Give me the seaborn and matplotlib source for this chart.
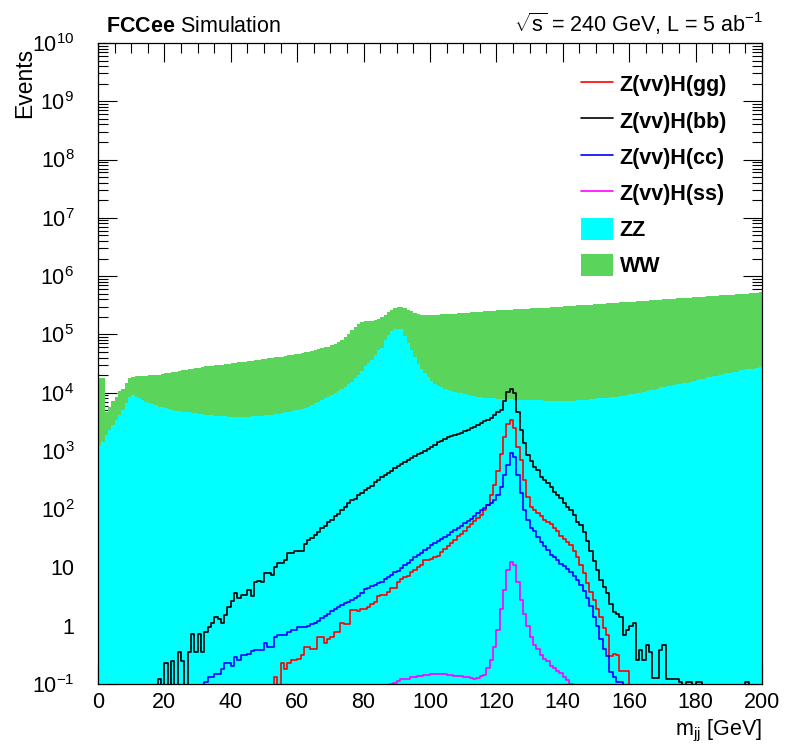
# FCCee Z(vv)H -> jj : dijet invariant mass, stacked backgrounds + signal lines
import numpy as np
import matplotlib
matplotlib.use("Agg")
import matplotlib.pyplot as plt
import seaborn as sns
from matplotlib.ticker import MultipleLocator, LogLocator, FuncFormatter, NullFormatter
from matplotlib.lines import Line2D
from matplotlib.patches import Patch


# 1 GeV bins from 0 to 200 GeV
bin_edges = list(range(0, 201))

# ZZ background, events per bin (bins 0..199)
zz_events = [
    1260, 1450, 1860, 2290, 2750, 3390, 4170, 5010, 6610, 8320,
    9120, 8510, 7940, 7410, 6920, 6610, 6310, 6030, 5750, 5560,
    5370, 5190, 5010, 4900, 4790, 4680, 4620, 4570, 4470, 4420,
    4370, 4270, 4170, 4120, 4070, 4030, 3980, 3980, 3940, 3890,
    3890, 3890, 3890, 3890, 3890, 3890, 3940, 3980, 3980, 4030,
    4070, 4120, 4170, 4270, 4370, 4470, 4570, 4730, 4900, 5010,
    5130, 5310, 5500, 5750, 6170, 6530, 6920, 7410, 7940, 8510,
    9120, 9770, 10470, 11480, 12590, 13960, 15490, 17580, 19950, 23710,
    28180, 31990, 36310, 44160, 53700, 57540, 79430, 97720, 112200, 123000,
    125900, 123000, 95500, 72440, 54950, 41690, 31620, 25700, 21380, 18200,
    15850, 14130, 13180, 12300, 11480, 10960, 10470, 10230, 10000, 9770,
    9300, 9100, 8900, 8700, 8550, 8400, 8250, 8100, 8000, 7950,
    7900, 7800, 7750, 7700, 7650, 7600, 7580, 7560, 7500, 7450,
    7400, 7380, 7350, 7330, 7300, 7280, 7260, 7240, 7240, 7240,
    7240, 7240, 7240, 7300, 7410, 7480, 7550, 7590, 7700, 7800,
    7940, 8000, 8130, 8220, 8320, 8450, 8580, 8710, 8870, 9120,
    9330, 9550, 9770, 10000, 10350, 10720, 11000, 11220, 11750, 12300,
    12590, 12880, 12880, 13490, 13800, 14130, 14450, 14790, 15490, 15850,
    16600, 16980, 17380, 18200, 18620, 19050, 19500, 19950, 20890, 21380,
    21880, 22390, 22910, 23990, 24550, 25120, 25700, 25700, 26300, 27540,
]

# WW background, events per bin (stacked on top of ZZ)
ww_events = [
    16500, 16300, 2800, 3460, 4330, 5120, 6300, 6740, 7840, 9460,
    9500, 10540, 11560, 11640, 12580, 13340, 13640, 14150, 14670, 15330,
    16010, 16690, 17380, 18010, 18650, 19310, 19930, 20550, 21230, 21880,
    22550, 23270, 24010, 24390, 24770, 25480, 25870, 26220, 26960, 27730,
    28100, 28470, 29220, 29610, 29990, 30780, 31540, 32330, 32750, 33120,
    33950, 34780, 35640, 36470, 36840, 37220, 38090, 38920, 39770, 40700,
    41640, 42550, 43480, 44950, 46310, 47170, 48670, 50130, 51630, 53150,
    56190, 59410, 63660, 67950, 76540, 86040, 102000, 117300, 131400, 138500,
    139700, 137800, 135500, 131600, 128300, 137500, 136900, 145000, 153900, 162100,
    169200, 168700, 183100, 187600, 193400, 195400, 194900, 193100, 194900, 198100,
    203000, 204700, 205600, 208000, 210300, 212900, 215400, 217800, 220100, 222500,
    225100, 227500, 229900, 232300, 234700, 237100, 239500, 241900, 244300, 246800,
    249100, 251600, 254000, 256500, 259000, 261600, 263400, 265300, 267300, 269200,
    271200, 273100, 275200, 277100, 279100, 281100, 283700, 286300, 288800, 291300,
    293800, 296800, 299800, 302700, 305600, 308700, 311500, 314400, 317300, 320200,
    323200, 326000, 328900, 331800, 335300, 338300, 341400, 344300, 347600, 350600,
    353800, 356800, 360000, 363300, 366400, 369500, 372700, 376100, 379000, 382200,
    385500, 388900, 392600, 395800, 399200, 402800, 406300, 409800, 413000, 416700,
    419900, 423500, 427200, 430500, 434200, 438000, 441800, 445600, 449000, 452800,
    456700, 460700, 464600, 468000, 472000, 476100, 480100, 484800, 488900, 497300,
]

# Signal histograms: first non-empty bin + events per bin from there
hbb_start = 18
hbb_events = [
    0.12, 0, 0.23, 0, 0.25, 0, 0.36, 0.25, 0, 0.36,
    0.71, 0.36, 0.71, 0.36, 0.79, 0.96, 1.1, 1.4, 1.3, 1.1,
    1.5, 2.1, 2.7, 3.6, 3.0, 3.4, 3.4, 4.1, 3.3, 5.7,
    5.9, 5.6, 8.1, 8.0, 7.4, 10.3, 11.7, 11.7, 13.5, 17.5,
    17.5, 19.4, 19.4, 19.4, 25, 30, 32, 36, 40, 47,
    52, 61, 66, 76, 83, 98, 110, 126, 144, 150,
    175, 190, 213, 230, 250, 297, 315, 353, 385, 425,
    460, 500, 545, 600, 650, 700, 760, 815, 870, 930,
    1000, 1070, 1150, 1250, 1450, 1500, 1600, 1700, 1800, 1870,
    1950, 2050, 2200, 2300, 2450, 2600, 2800, 3000, 3200, 3400,
    3700, 4100, 4700, 5100, 7200, 10400, 11700, 10000, 4700, 2300,
    1350, 850, 660, 540, 470, 360, 318, 280, 243, 200,
    175, 155, 126, 110, 98, 80, 61, 54, 41, 28,
    19, 13, 9, 6, 4.7, 3.6, 2.4, 1.7, 1.6, 1.4,
    0.7, 0.85, 1.0, 1.1, 0.26, 0.38, 0.26, 0.47, 0.36, 0.125,
    0.125, 0.38, 0.47, 0.12, 0.12, 0.12, 0.12, 0.11, 0, 0.11,
    0.11, 0, 0.11, 0.11, 0, 0, 0, 0, 0, 0,
    0, 0, 0, 0, 0, 0, 0, 0.11,
]

hgg_start = 53
hgg_events = [
    0.13, 0, 0.23, 0.18, 0.23, 0.26, 0.26, 0.27, 0.31, 0.44,
    0.44, 0.4, 0.4, 0.65, 0.65, 0.5, 0.6, 0.65, 0.79, 0.79,
    1.1, 1.05, 1.05, 1.86, 1.86, 1.8, 1.9, 1.95, 2.1, 2.4,
    2.6, 3.2, 3.4, 3.4, 3.8, 4.4, 4.4, 5.7, 6.3, 6.8,
    7.2, 8.5, 9.0, 10.3, 11, 13.5, 13.5, 14, 15, 16,
    18.5, 20.5, 23, 26, 30, 34, 38, 43, 49, 56,
    62, 70, 80, 97, 118, 175, 260, 460, 900, 1750,
    2950, 3400, 2450, 1170, 690, 315, 163, 110, 95, 85,
    75, 65, 60, 55, 48, 42, 35, 31, 27, 24,
    19, 15, 11, 8, 5.5, 3.8, 2.8, 1.9, 1.4, 0.9,
    0.7, 0.3, 0.33, 0.32, 0.17, 0.17, 0.17,
]

hcc_start = 32
hcc_events = [
    0.11, 0.13, 0.13, 0.15, 0.15, 0.18, 0.23, 0.23, 0.2, 0.29,
    0.26, 0.31, 0.31, 0.33, 0.37, 0.39, 0.39, 0.39, 0.5, 0.44,
    0.44, 0.65, 0.69, 0.69, 0.69, 0.78, 0.83, 0.83, 0.94, 0.94,
    0.94, 1.0, 1.05, 1.1, 1.2, 1.35, 1.45, 1.6, 1.8, 1.9,
    2.1, 2.3, 2.5, 2.6, 2.8, 3.0, 3.2, 3.6, 4.2, 4.5,
    4.8, 5.0, 5.4, 5.6, 6.3, 6.9, 7.4, 8.2, 8.8, 9.6,
    11, 12, 13.5, 15, 16.5, 18, 20, 22, 24, 26,
    28, 31, 33, 36, 40, 44, 48, 52, 57, 62,
    68, 75, 85, 95, 105, 117, 130, 145, 175, 243,
    390, 580, 930, 780, 390, 186, 98, 65, 48, 42,
    33, 27, 23, 20, 16.5, 15, 13.5, 11.5, 10.5, 9.5,
    8.5, 7, 6, 5, 4, 3, 2.2, 1.4, 1.0, 0.6,
    0.4, 0.3, 0.16, 0.13, 0.11, 0.11,
]

hss_start = 88
hss_events = [
    0.1, 0.105, 0.114, 0.12, 0.122, 0.122, 0.13, 0.13, 0.139, 0.139,
    0.14, 0.14, 0.148, 0.148, 0.148, 0.148, 0.148, 0.145, 0.145, 0.137,
    0.137, 0.137, 0.13, 0.13, 0.125, 0.122, 0.125, 0.135, 0.14, 0.186,
    0.26, 0.44, 0.85, 1.9, 4.1, 9, 12.5, 11, 5.7, 2.8,
    1.6, 1.0, 0.65, 0.47, 0.4, 0.32, 0.27, 0.25, 0.2, 0.19,
    0.17, 0.155, 0.13, 0.115, 0.1,
]

legend_labels = ["Z(vv)H(gg)", "Z(vv)H(bb)", "Z(vv)H(cc)", "Z(vv)H(ss)", "ZZ", "WW"]
x_ticks = [0, 20, 40, 60, 80, 100, 120, 140, 160, 180, 200]


# colours (ROOT-like)
c_gg, c_bb, c_cc, c_ss = "#ff0000", "#000000", "#0000ff", "#ff00ff"
c_zz, c_ww = "#00ffff", "#5ad45a"

n_bins = len(bin_edges) - 1


def full_hist(start, vals):
    # pad a partial histogram with empty bins
    out = np.zeros(n_bins)
    out[start:start + len(vals)] = vals
    return out


centers = np.array(bin_edges[:-1]) + 0.5
zz = np.array(zz_events, dtype=float)
ww = np.array(ww_events, dtype=float)

sns.set_theme(style="ticks")
plt.rcParams["font.family"] = ["Liberation Sans", "DejaVu Sans"]
plt.rcParams["mathtext.fontset"] = "custom"
plt.rcParams["mathtext.rm"] = "Liberation Sans"
plt.rcParams["mathtext.it"] = "Liberation Sans:italic"
plt.rcParams["mathtext.bf"] = "Liberation Sans:bold"
plt.rcParams["text.color"] = "black"
plt.rcParams["axes.labelcolor"] = "black"

fig = plt.figure(figsize=(7.92, 7.45), dpi=100)
ax = fig.add_axes([98 / 792, 1 - 684 / 745, 664 / 792, 641 / 745])

# stacked backgrounds: WW on top of ZZ
sns.histplot(x=centers, weights=zz + ww, bins=bin_edges, element="step", fill=True,
             color=c_ww, alpha=1, linewidth=0, ax=ax)
sns.histplot(x=centers, weights=zz, bins=bin_edges, element="step", fill=True,
             color=c_zz, alpha=1, linewidth=0, ax=ax)

# signal lines
signals = [(hgg_start, hgg_events, c_gg), (hbb_start, hbb_events, c_bb),
           (hcc_start, hcc_events, c_cc), (hss_start, hss_events, c_ss)]
for start, vals, col in signals:
    sns.histplot(x=centers, weights=full_hist(start, vals), bins=bin_edges,
                 element="step", fill=False, color=col, linewidth=1.2, ax=ax)

ax.set_yscale("log")
ax.set_xlim(0, 200)
ax.set_ylim(0.1, 1e10)
ax.set_xlabel("")
ax.set_ylabel("")

ax.set_xticks(x_ticks)
ax.xaxis.set_minor_locator(MultipleLocator(5))
ax.yaxis.set_major_locator(LogLocator(base=10, numticks=20))
ax.yaxis.set_minor_locator(LogLocator(base=10, subs=np.arange(2, 10), numticks=20))
ax.yaxis.set_minor_formatter(NullFormatter())


def y_label(v, pos):
    e = int(round(np.log10(v)))
    if e == 0:
        return "1"
    if e == 1:
        return "10"
    return rf"$10^{{{e}}}$"


ax.yaxis.set_major_formatter(FuncFormatter(y_label))
ax.tick_params(which="both", direction="in", top=True, right=True,
               width=0.8, color="black", labelcolor="black")
ax.tick_params(which="major", length=14, labelsize=15.5)
ax.tick_params(which="minor", length=7)
ax.tick_params(axis="y", which="major", pad=17)
ax.tick_params(axis="x", which="major", pad=6)
for sp in ax.spines.values():
    sp.set_color("black")
    sp.set_linewidth(0.9)

# legend
handles = [Line2D([], [], color=c_gg, lw=1.2), Line2D([], [], color=c_bb, lw=1.2),
           Line2D([], [], color=c_cc, lw=1.2), Line2D([], [], color=c_ss, lw=1.2),
           Patch(facecolor=c_zz, edgecolor="none"), Patch(facecolor=c_ww, edgecolor="none")]
fig.legend(handles, legend_labels, loc="upper left", bbox_to_anchor=(581 / 792, 1 - 73 / 745),
           frameon=False, prop={"weight": "bold", "size": 15.5},
           handlelength=1.5, handleheight=1.2, handletextpad=0.3,
           labelspacing=0.6, borderpad=0, borderaxespad=0)

# texts around the frame
fig.text(106 / 792, 1 - 32 / 745, r"$\mathbf{FCCee}$ Simulation", fontsize=15.5,
         ha="left", va="baseline")
fig.text(763 / 792, 1 - 32 / 745, r"$\sqrt{\mathrm{s}}$ = 240 GeV, L = 5 ab$^{-1}$",
         fontsize=15.5, ha="right", va="baseline")
fig.text(25 / 792, 1 - 48 / 745, "Events", rotation=90, fontsize=16.5,
         ha="center", va="top")
fig.text(762 / 792, 1 - 735 / 745, r"m$_{\mathrm{jj}}$ [GeV]", fontsize=15.5,
         ha="right", va="baseline")

fig.savefig("out.png", dpi=100)
